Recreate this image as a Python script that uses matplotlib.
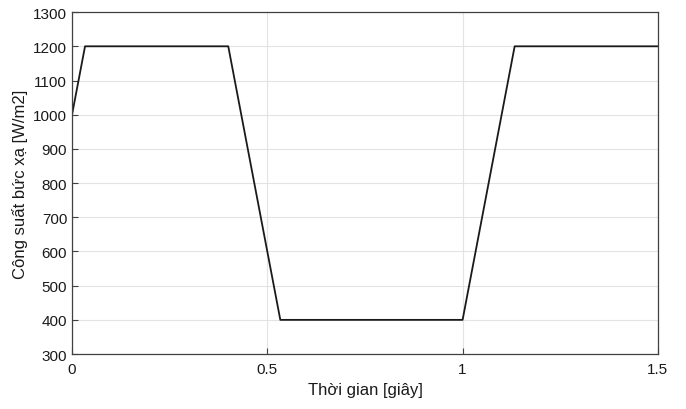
import matplotlib
matplotlib.use("Agg")
import matplotlib.pyplot as plt

t = [0.0, 0.0333, 0.4, 0.5333, 1.0, 1.1333, 1.5]
irradiance = [1000, 1200, 1200, 400, 400, 1200, 1200]
xticks = [0, 0.5, 1, 1.5]
xticklabels = ["0", "0.5", "1", "1.5"]
yticks = list(range(300, 1301, 100))

plt.rcParams['font.family'] = ['Liberation Sans', 'DejaVu Sans']
fig = plt.figure(figsize=(6.86, 4.10), dpi=100)
ax = fig.add_axes([0.105, 0.134, 0.854, 0.834])
ax.plot(t, irradiance, color='#1a1a1a', lw=1.3)
ax.set_xlim(0, 1.5)
ax.set_ylim(300, 1300)
ax.set_xticks(xticks)
ax.set_xticklabels(xticklabels)
ax.set_yticks(yticks)
ax.grid(True, color='#e3e3e3', lw=0.8)
ax.set_axisbelow(True)
for s in ax.spines.values():
    s.set_color('#404040')
    s.set_linewidth(0.9)
ax.tick_params(direction='in', length=4, color='#404040', labelsize=11, labelcolor='#1a1a1a')
ax.tick_params(axis='x', pad=6)
ax.set_xlabel("Thời gian [giây]", fontsize=12, color='#1a1a1a')
ax.set_ylabel("Công suất bức xạ [W/m2]", fontsize=12, color='#1a1a1a')
fig.savefig("out.png", dpi=100)
